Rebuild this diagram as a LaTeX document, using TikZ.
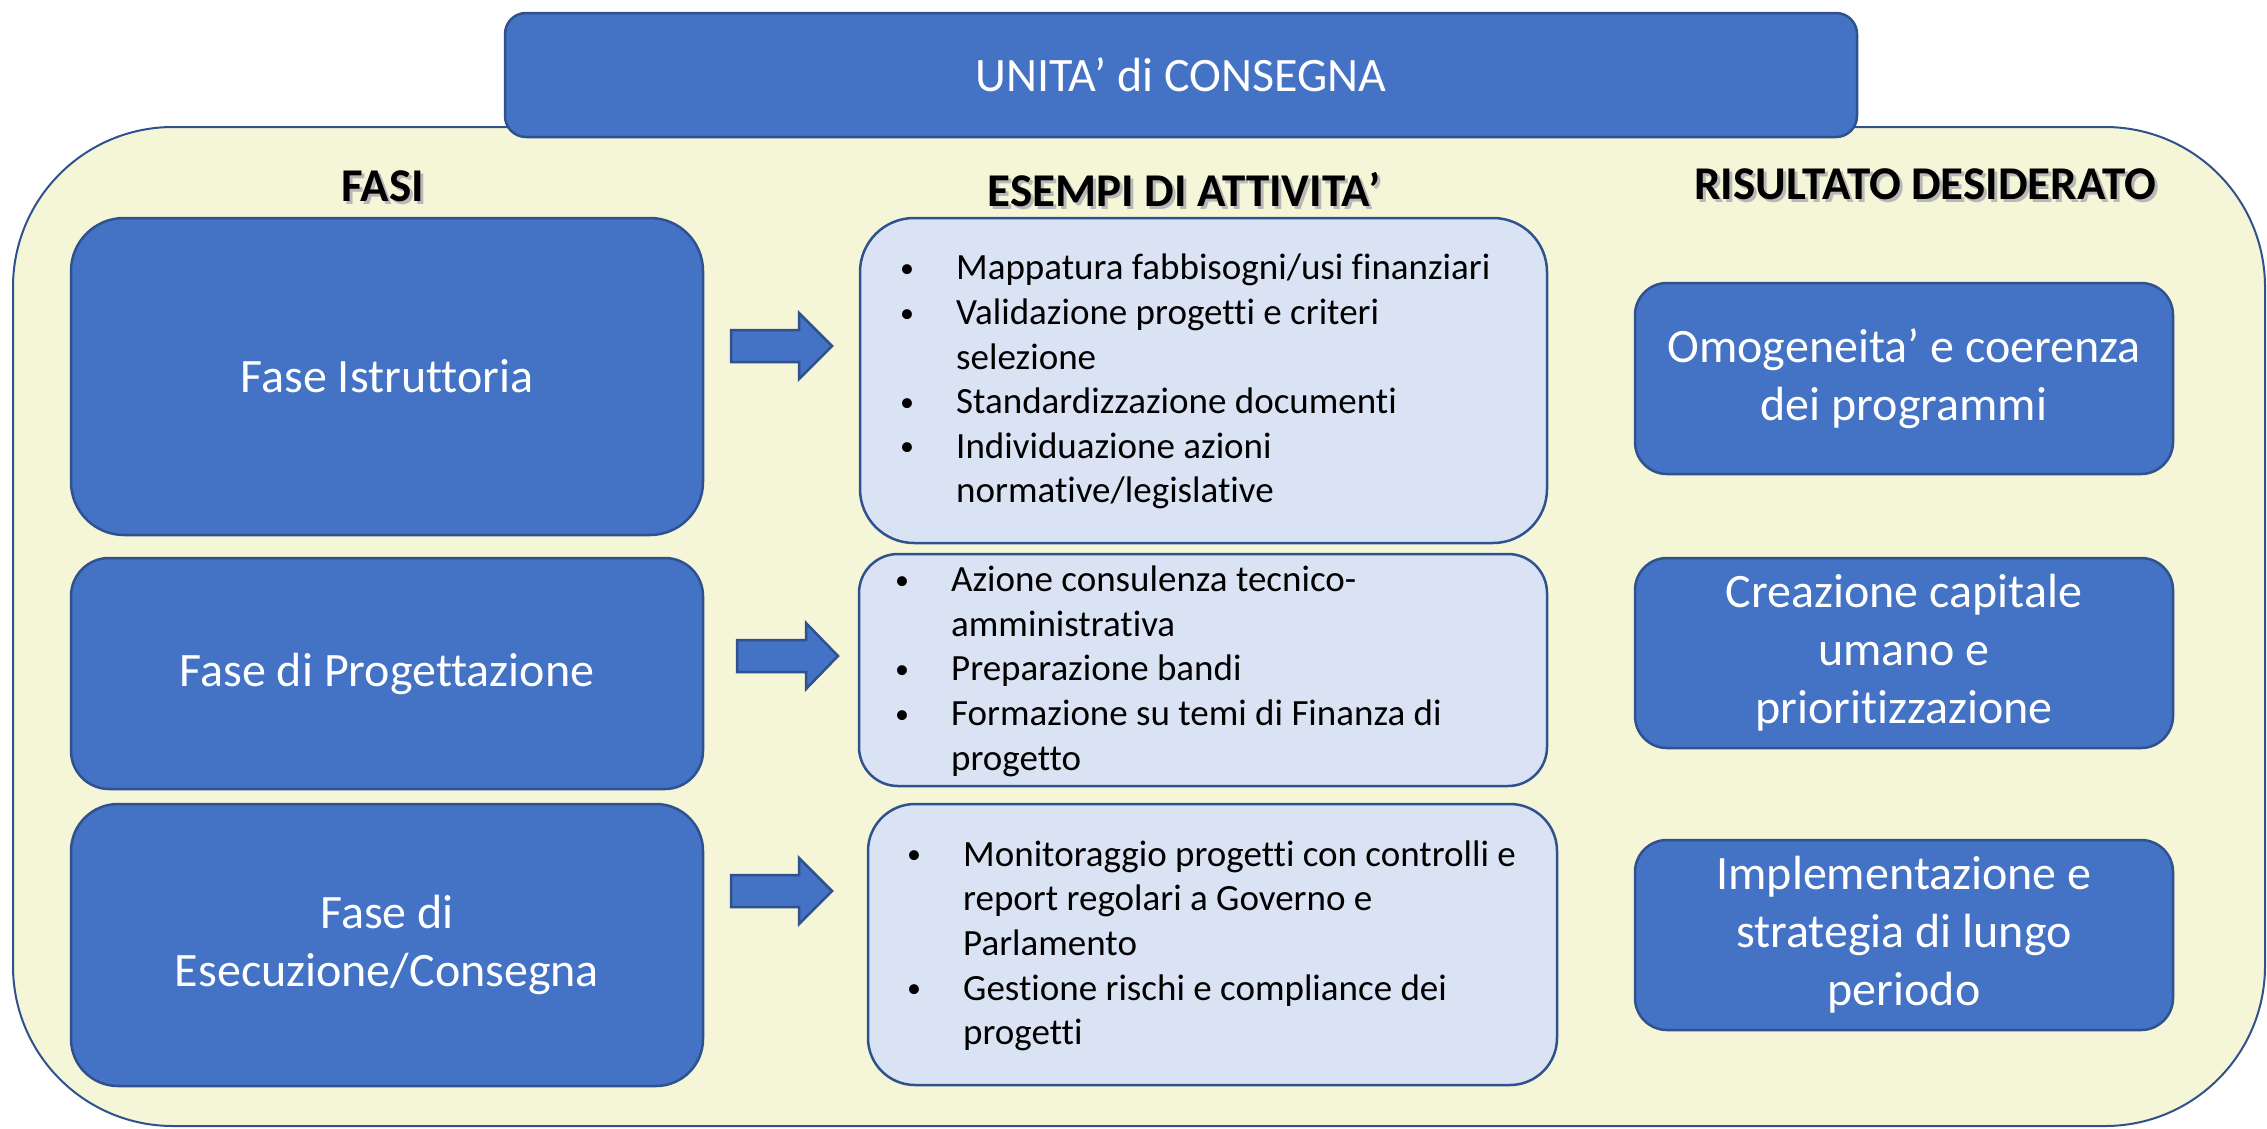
\documentclass[tikz,border=0pt]{standalone}
\usepackage{fontspec}
\setmainfont{Carlito}[Ligatures=CommonOff]
\definecolor{bfill}{RGB}{68,114,196}
\definecolor{bline}{RGB}{47,82,143}
\definecolor{lfill}{RGB}{218,227,243}
\definecolor{yfill}{RGB}{245,246,215}
\tikzset{
  box/.style={rectangle, draw=bline, line width=2.5pt, inner sep=0pt, outer sep=0pt},
  phase/.style={box, fill=bfill, text=white, align=center, font=\fontsize{48}{58}\selectfont},
  actbox/.style={box, fill=lfill},
  acttext/.style={anchor=west, inner sep=0pt, text=black, font=\fontsize{37}{44.6}\selectfont},
  head/.style={inner sep=0pt, text=black, font=\bfseries\fontsize{47}{56}\selectfont},
  headshadow/.style={head, text=black!28},
  blockarrow/.style={fill=bfill, draw=bline, line width=2.5pt, line join=miter},
}
\newcommand{\bl}{\makebox[56pt][l]{\raisebox{2.5pt}{\fontsize{28}{28}\selectfont\textbullet}}}
\begin{document}
\begin{tikzpicture}[x=1pt,y=-1pt]
\useasboundingbox (0,0) rectangle (2267,1128);
% outer frame
\node[box, fill=yfill, line width=2pt, minimum width=2252pt, minimum height=999pt, rounded corners=160pt] (frame) at (1139,626.5) {};
% title
\node[phase, minimum width=1352pt, minimum height=124pt, rounded corners=21pt] (title) at (1181,75) {UNITA’ di CONSEGNA};
% headers
\node[headshadow] (h1s) at (386,189) {FASI};
\node[head] (h1) at (383,186) {FASI};
\node[headshadow] (h2s) at (1187,193) {ESEMPI DI ATTIVITA’};
\node[head] (h2) at (1184,190) {ESEMPI DI ATTIVITA’};
\node[headshadow] (h3s) at (1928,187) {RISULTATO DESIDERATO};
\node[head] (h3) at (1925,184) {RISULTATO DESIDERATO};
% phases
\node[phase, minimum width=632pt, minimum height=317pt, rounded corners=53pt] (p1) at (387,376.5) {Fase Istruttoria};
\node[phase, minimum width=632pt, minimum height=231pt, rounded corners=38pt] (p2) at (387,673.5) {Fase di Progettazione};
\node[phase, minimum width=632pt, minimum height=282pt, rounded corners=47pt] (p3) at (387,945) {Fase di\\Esecuzione/Consegna};
% activity boxes
\node[actbox, minimum width=687pt, minimum height=325pt, rounded corners=54pt] (a1) at (1203.5,380.5) {};
\node[actbox, minimum width=688pt, minimum height=232pt, rounded corners=39pt] (a2) at (1203,670) {};
\node[actbox, minimum width=689pt, minimum height=281pt, rounded corners=47pt] (a3) at (1212.5,944.5) {};
\node[acttext] (a1t) at ([xshift=40pt,yshift=-2pt]a1.west) {\begin{tabular}{@{}l@{}}
\bl Mappatura fabbisogni/usi finanziari\\
\bl Validazione progetti e criteri\\
\hspace*{56pt}selezione\\
\bl Standardizzazione documenti\\
\bl Individuazione azioni\\
\hspace*{56pt}normative/legislative
\end{tabular}};
\node[acttext] (a2t) at ([xshift=36pt,yshift=-2pt]a2.west) {\begin{tabular}{@{}l@{}}
\bl Azione consulenza tecnico-\\
\hspace*{56pt}amministrativa\\
\bl Preparazione bandi\\
\bl Formazione su temi di Finanza di\\
\hspace*{56pt}progetto
\end{tabular}};
\node[acttext] (a3t) at ([xshift=39pt,yshift=-2pt]a3.west) {\begin{tabular}{@{}l@{}}
\bl Monitoraggio progetti con controlli e\\
\hspace*{56pt}report regolari a Governo e\\
\hspace*{56pt}Parlamento\\
\bl Gestione rischi e compliance dei\\
\hspace*{56pt}progetti
\end{tabular}};
% results
\node[phase, minimum width=538pt, minimum height=191pt, rounded corners=32pt] (r1) at (1904,378.5) {Omogeneita’ e coerenza\\dei programmi};
\node[phase, minimum width=538pt, minimum height=190pt, rounded corners=32pt] (r2) at (1904,653) {Creazione capitale\\umano e\\prioritizzazione};
\node[phase, minimum width=538pt, minimum height=190pt, rounded corners=32pt] (r3) at (1904,935) {Implementazione e\\strategia di lungo\\periodo};
% block arrows
\draw[blockarrow] (731,330) -- (799,330) -- (799,313) -- (832,346) -- (799,379) -- (799,362) -- (731,362) -- cycle;
\draw[blockarrow] (737,640) -- (806,640) -- (806,623) -- (838,656) -- (806,689) -- (806,672) -- (737,672) -- cycle;
\draw[blockarrow] (731,875) -- (799,875) -- (799,858) -- (832,891) -- (799,924) -- (799,907) -- (731,907) -- cycle;
\end{tikzpicture}
\end{document}
